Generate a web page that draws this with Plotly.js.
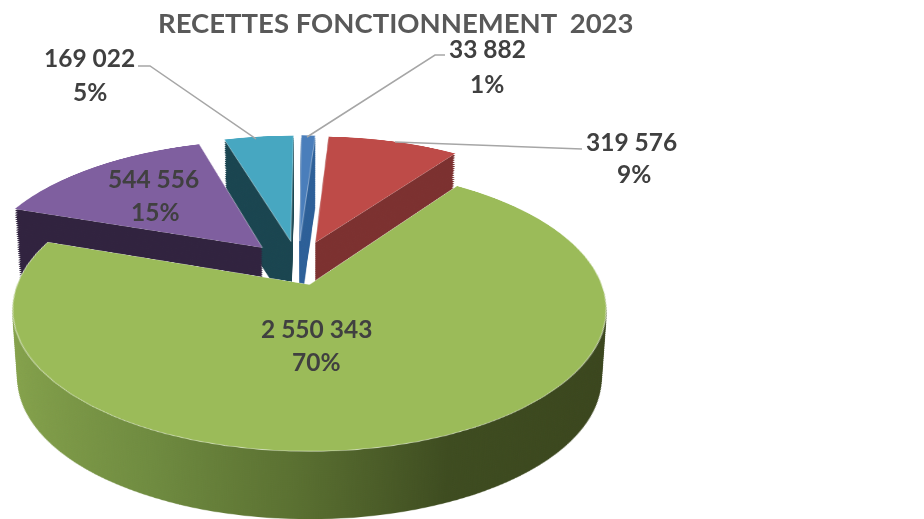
<!DOCTYPE html>
<html><head><meta charset="utf-8">
<script src="https://cdn.plot.ly/plotly-3.0.1.min.js"></script>
<style>html,body{margin:0;padding:0;background:#fff;overflow:hidden;width:924px;height:519px}
#stage{position:relative;width:924px;height:519px;overflow:hidden}
.layer{position:absolute;left:0;top:0;transform-origin:0 0}
</style></head><body><div id="stage"></div>
<script>
// ---- data ----
const sliceNames = ["Poste 1","Poste 2","Poste 3","Poste 4","Poste 5"];
const sliceValues = [33882, 319576, 2550343, 544556, 169022];
const valueLabels = ["33 882","319 576","2 550 343","544 556","169 022"];
const percentLabels = ["1%","9%","70%","15%","5%"];
const topColors = ["#4a7ebb","#be4b48","#9bbb59","#7f5f9f","#47a7c1"];
const sideColors = ["#2c5f98","#7c3130","#5f7434","#31233f","#1a4550"];
const explode = 0.186;
const chartTitle = "RECETTES FONCTIONNEMENT  2023";
const labelAnchors = [[487,49,487,83],[631,141,634,174],[316,328,316,361],[153,178,155,212],[89,57,90,91]];

// ---- projective tilt of the pie plane ----
const S = 700, R = (S/2)/(1+explode), GREEN = 2;
const persp = {c:-0.174, a:88.4, k:292.6, cx:310, cy:285};
const shiftOuter = {sx:-0.042, sy:-0.15}, shiftMain = {sx:-0.059, sy:-0.18};
function tilt(depth, D, shift){
  const f = D ? depth/D : 0, sh = 1-0.017*f, dy = depth*1.055;
  const {c,a,k,cx,cy} = persp, {sx,sy} = shift;
  const w = [0, c/R, 1+c*(sy-S/2/R)];
  const U = [1/R, 0, sx-S/2/R], T = [0, 1/R, sy-S/2/R];
  const X = [0,1,2].map(i => k*sh*U[i] + cx*w[i]);
  const Y = [0,1,2].map(i => a*sh*T[i] + (i==2? cy : 0) + dy*w[i]);
  return `matrix3d(${X[0]},${Y[0]},0,${w[0]},${X[1]},${Y[1]},0,${w[1]},0,0,1,0,${X[2]},${Y[2]},0,${w[2]})`;
}
const stage = document.getElementById('stage');
function pieLayer(colors, depth, D, shift, lines, gradient){
  const el = document.createElement('div');
  el.className='layer'; el.style.width=S+'px'; el.style.height=S+'px';
  el.style.transform = tilt(depth, D, shift);
  stage.appendChild(el);
  const p = Plotly.newPlot(el,[{type:'pie',values:sliceValues,labels:sliceNames,sort:false,direction:'clockwise',rotation:0,
    pull:sliceValues.map(()=>explode),textinfo:'none',hoverinfo:'skip',
    marker:{colors:colors,line:{color:lines||colors.map(()=>'rgba(0,0,0,0)'),width:lines?0.8:0}}}],
    {width:S,height:S,margin:{l:0,r:0,t:0,b:0},showlegend:false,paper_bgcolor:'rgba(0,0,0,0)',plot_bgcolor:'rgba(0,0,0,0)'},
    {staticPlot:true,displayModeBar:false});
  if(gradient) p.then(()=>{
    const svg = el.querySelector('svg.main-svg');
    const ns='http://www.w3.org/2000/svg';
    const g=document.createElementNS(ns,'linearGradient');
    g.setAttribute('id','gs'+depth); g.setAttribute('x1','0');g.setAttribute('x2','1');g.setAttribute('y1','0');g.setAttribute('y2','0');
    [[0,'#86a34c'],[.27,'#6f8b40'],[.48,'#5a7031'],[.7,'#3e4c20'],[1,'#3a451d']].forEach(s=>{
      const st=document.createElementNS(ns,'stop');st.setAttribute('offset',s[0]);st.setAttribute('stop-color',s[1]);g.appendChild(st);});
    const defs=document.createElementNS(ns,'defs');defs.appendChild(g);svg.insertBefore(defs,svg.firstChild);
    el.querySelectorAll('.slice path.surface')[GREEN].style.fill='url(#gs'+depth+')';
  });
}
const T0='rgba(0,0,0,0)';
const DEPTH=66;
const others = a => a.map((c,i)=> i==GREEN?T0:c);
const onlyGreen = a => a.map((c,i)=> i==GREEN?c:T0);
for(let d=DEPTH; d>0; d-=2) pieLayer(others(sideColors), d, DEPTH, shiftOuter);
pieLayer(others(topColors),0,DEPTH, shiftOuter, others(topColors.map(()=> 'rgba(255,255,255,0.55)')));
for(let d=DEPTH; d>0; d-=2) pieLayer(onlyGreen(sideColors), d, DEPTH, shiftMain, null, true);
pieLayer(onlyGreen(topColors),0,DEPTH, shiftMain, onlyGreen(topColors.map(()=> 'rgba(255,255,255,0.8)')));

// ---- title, labels, leaders ----
const W=924,H=519;
const font={family:'Lato, "Open Sans", sans-serif',size:24.5,color:'#404040'};
const ann=[];
function add(txt,x,y,f){ann.push({text:txt,x:x/W,y:1-y/H,xref:'paper',yref:'paper',xanchor:'center',yanchor:'middle',showarrow:false,font:f||font});}
labelAnchors.forEach((p,i)=>{add('<b>'+valueLabels[i]+'</b>',p[0],p[1]);add('<b>'+percentLabels[i]+'</b>',p[2],p[3]);});
add('<b>'+chartTitle+'</b>',396,23,{family:font.family,size:27.5,color:'#595959'});
function leader(pts){return {type:'path',xref:'paper',yref:'paper',path:pts.map((p,i)=>(i?'L':'M')+(p[0]/W)+' '+(1-p[1]/H)).join(' '),line:{color:'#a6a6a6',width:1.5}};}
const ov=document.createElement('div');ov.className='layer';ov.style.width=W+'px';ov.style.height=H+'px';stage.appendChild(ov);
Plotly.newPlot(ov,[],{width:W,height:H,margin:{l:0,r:0,t:0,b:0},showlegend:false,paper_bgcolor:'rgba(0,0,0,0)',plot_bgcolor:'rgba(0,0,0,0)',
  xaxis:{visible:false},yaxis:{visible:false},annotations:ann,
  shapes:[leader([[445,55],[435,55],[307,137]]),leader([[582,149],[395,142]]),leader([[138,66],[150,66],[256,139]])]},
  {staticPlot:true,displayModeBar:false});
</script></body></html>
